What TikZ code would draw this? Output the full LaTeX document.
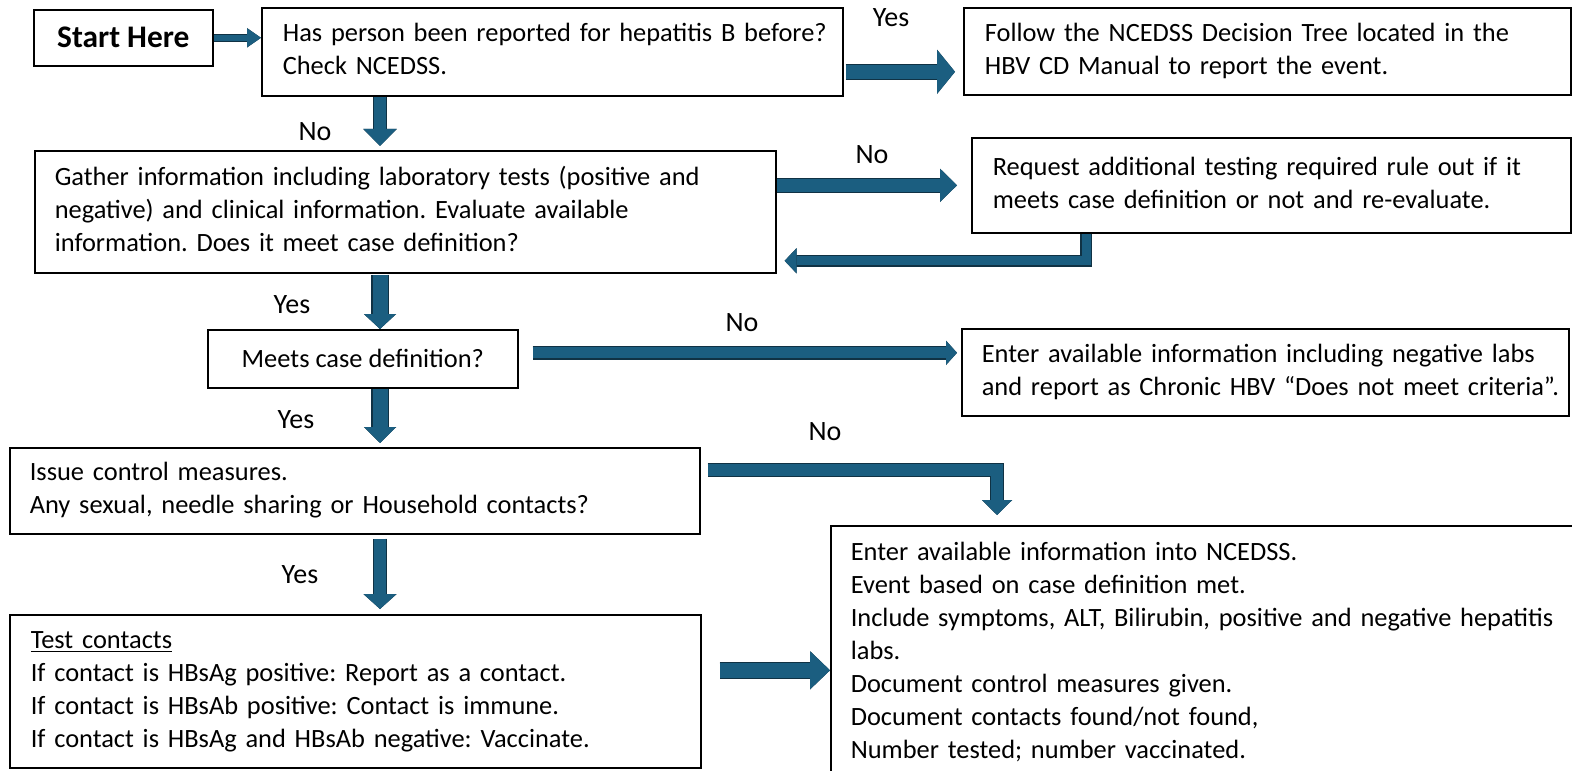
\documentclass[tikz,border=0pt]{standalone}
\usepackage{fontspec}
\setmainfont{Carlito}
\usetikzlibrary{arrows.meta,calc}
\definecolor{arrowblue}{RGB}{27,94,128}
\definecolor{arrowedge}{RGB}{16,50,68}
\newcommand{\bodyfont}{\fontsize{13.2pt}{16.5pt}\selectfont}
\newcommand{\boxlines}[1]{\begin{tabular}{@{}l@{}}#1\end{tabular}}
\frenchspacing
\begin{document}
\begin{tikzpicture}[x=0.5pt, y=-0.5pt, line join=miter, font=\bodyfont]
	\tikzset{box/.style={draw, line width=0.8pt, anchor=north west, inner xsep=10.5pt, inner ysep=0pt, align=left},
		lbl/.style={font=\fontsize{14pt}{16pt}\selectfont},
		blk/.style args={#1/#2/#3}{draw=arrowblue, line width=#1, -{Triangle[length=#3, width=#2, line width=0pt]},
			preaction={draw=arrowedge, line width=#1+1.2pt, -{Triangle[length=#3, width=#2, line width=1.2pt]}}}}
	\useasboundingbox (0,0) rectangle (1572,770);
	% boxes
	\node[box, align=center, minimum width=89.5pt, minimum height=28pt, font=\fontsize{15.7pt}{18pt}\selectfont\bfseries] (start) at (33,9) {Start Here};
	\node[box, text width=269.5pt, minimum height=44pt] (q1) at (261,7) {\boxlines{Has person been reported for hepatitis B before?\\ Check NCEDSS.}};
	\node[box, text width=282.5pt, minimum height=43.5pt] (follow) at (963,7) {\boxlines{Follow the NCEDSS Decision Tree located in the\\ HBV CD Manual to report the event.}};
	\node[box, text width=350.5pt, minimum height=61pt, inner xsep=10pt] (gather) at (34,150) {\boxlines{Gather information including laboratory tests (positive and\\ negative) and clinical information. Evaluate available\\ information. Does it meet case definition?}};
	\node[box, text width=278.5pt, minimum height=47.5pt] (request) at (971,137) {\boxlines{Request additional testing required rule out if it\\ meets case definition or not and re-evaluate.}};
	\node[box, align=center, minimum width=155pt, minimum height=29pt] (meets) at (207,329) {Meets case definition?};
	\node[box, text width=283.5pt, minimum height=43.5pt, inner xsep=10pt] (neg) at (961,328) {\boxlines{Enter available information including negative labs\\ and report as Chronic HBV “Does not meet criteria”.}};
	\node[box, text width=325pt, minimum height=43pt, inner xsep=10pt] (issue) at (9,447) {\boxlines{Issue control measures.\\ Any sexual, needle sharing or Household contacts?}};
	\node[box, text width=324.5pt, minimum height=76.5pt] (test) at (9,614) {\boxlines{\underline{Test contacts}\\ If contact is HBsAg positive: Report as a contact.\\ If contact is HBsAb positive: Contact is immune.\\ If contact is HBsAg and HBsAb negative: Vaccinate.}};
	\node[box, text width=351pt, minimum height=127pt, inner xsep=10pt] (enter) at (830,525) {\boxlines{Enter available information into NCEDSS.\\ Event based on case definition met.\\ Include symptoms, ALT, Bilirubin, positive and negative hepatitis\\ labs.\\ Document control measures given.\\ Document contacts found/not found,\\ Number tested; number vaccinated.}};
	% labels
	\node[lbl] (yes1) at (891,18) {Yes};
	\node[lbl] (no1) at (315,132) {No};
	\node[lbl] (no2) at (872,155) {No};
	\node[lbl] (yes2) at (292,305) {Yes};
	\node[lbl] (no3) at (742,323) {No};
	\node[lbl] (yes3) at (296,420) {Yes};
	\node[lbl] (no4) at (825,432) {No};
	\node[lbl] (yes4) at (300,575) {Yes};
	% arrows
	\coordinate (mid) at (380,0);
	\draw[blk=3pt/9.5pt/7pt] (start.east) -- (start.east -| q1.west);
	\draw[blk=7pt/22pt/9pt] ($(q1.east)+(2,20)$) -- ($(follow.west)+(-8,20.5)$);
	\draw[blk=6pt/16.5pt/8.5pt, shorten >=2pt] (mid |- q1.south) -- (mid |- gather.north);
	\draw[blk=6.5pt/16.5pt/8.5pt, shorten >=7pt] (gather.east |- request.west) -- (request.west);
	\draw[blk=4.5pt/12.5pt/6pt] ($(request.south west)+(115,0)$) |- ($(gather.east)+(8,49)$);
	\draw[blk=7.5pt/16pt/7.5pt, shorten <=0.5pt] (mid |- gather.south) -- (mid |- meets.north);
	\draw[blk=5.5pt/12pt/5.5pt] ($(meets.east)+(14,-6)$) -- ($(meets.east -| neg.west)+(-4,-6)$);
	\draw[blk=7.5pt/16pt/8pt, shorten >=2pt] (mid |- meets.south) -- (mid |- issue.north);
	\draw[blk=6pt/15pt/7.5pt] ($(issue.north east)+(7,23)$) -| ($(enter.north west)+(167,-10)$);
	\draw[blk=6pt/16.5pt/7.5pt, shorten <=2pt, shorten >=2.5pt] (mid |- issue.south) -- (mid |- test.north);
	\draw[blk=7.5pt/19pt/10pt] ($(test.east)+(18,-21)$) -- ($(test.east -| enter.west)+(0,-21)$);
\end{tikzpicture}
\end{document}
